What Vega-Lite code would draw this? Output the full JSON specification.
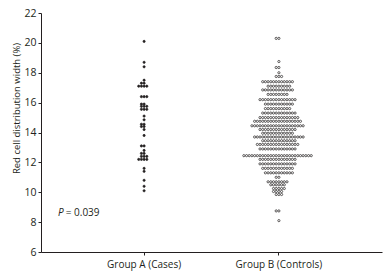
{
  "$schema": "https://vega.github.io/schema/vega-lite/v6.json",
  "autosize": "none",
  "width": 341,
  "height": 239,
  "padding": {"left": 41, "top": 13, "right": 6, "bottom": 20},
  "background": "white",
  "config": {
    "view": {"stroke": null},
    "axis": {"grid": false, "domainColor": "#231f20", "tickColor": "#231f20", "labelColor": "#231f20", "titleColor": "#231f20", "labelFont": "Open Sans", "titleFont": "Open Sans", "tickSize": 3, "domainWidth": 1, "tickWidth": 1, "labelBound": false, "labelOverlap": false}
  },
  "layer": [
    {
      "data": {"values": [
        {"g":"A","v":20.1},{"g":"A","v":18.7},{"g":"A","v":18.4},{"g":"A","v":17.5},
        {"g":"A","v":17.3},{"g":"A","v":17.3},
        {"g":"A","v":17.1},{"g":"A","v":17.1},{"g":"A","v":17.1},{"g":"A","v":17.1},
        {"g":"A","v":16.4},{"g":"A","v":16.4},{"g":"A","v":16.4},
        {"g":"A","v":15.9},{"g":"A","v":15.9},
        {"g":"A","v":15.75},{"g":"A","v":15.75},{"g":"A","v":15.75},
        {"g":"A","v":15.55},{"g":"A","v":15.55},{"g":"A","v":15.55},
        {"g":"A","v":15.1},{"g":"A","v":14.85},
        {"g":"A","v":14.55},{"g":"A","v":14.55},
        {"g":"A","v":14.4},{"g":"A","v":14.4},
        {"g":"A","v":14.2},{"g":"A","v":13.8},
        {"g":"A","v":13.1},{"g":"A","v":13.1},
        {"g":"A","v":12.8},
        {"g":"A","v":12.6},{"g":"A","v":12.6},
        {"g":"A","v":12.4},{"g":"A","v":12.4},{"g":"A","v":12.4},
        {"g":"A","v":12.2},{"g":"A","v":12.2},{"g":"A","v":12.2},{"g":"A","v":12.2},
        {"g":"A","v":11.6},{"g":"A","v":11.4},{"g":"A","v":10.8},{"g":"A","v":10.4},{"g":"A","v":10.1},

        {"g":"B","v":20.3},{"g":"B","v":20.3},
        {"g":"B","v":18.75},
        {"g":"B","v":18.35},{"g":"B","v":18.35},
        {"g":"B","v":18.0},
        {"g":"B","v":17.75},{"g":"B","v":17.75},{"g":"B","v":17.75},
        {"g":"B","v":17.4},{"g":"B","v":17.4},{"g":"B","v":17.4},{"g":"B","v":17.4},{"g":"B","v":17.4},{"g":"B","v":17.4},{"g":"B","v":17.4},{"g":"B","v":17.4},{"g":"B","v":17.4},{"g":"B","v":17.4},{"g":"B","v":17.4},{"g":"B","v":17.4},
        {"g":"B","v":17.1},{"g":"B","v":17.1},{"g":"B","v":17.1},{"g":"B","v":17.1},{"g":"B","v":17.1},{"g":"B","v":17.1},{"g":"B","v":17.1},{"g":"B","v":17.1},{"g":"B","v":17.1},
        {"g":"B","v":16.85},{"g":"B","v":16.85},{"g":"B","v":16.85},{"g":"B","v":16.85},{"g":"B","v":16.85},{"g":"B","v":16.85},{"g":"B","v":16.85},{"g":"B","v":16.85},{"g":"B","v":16.85},{"g":"B","v":16.85},{"g":"B","v":16.85},{"g":"B","v":16.85},
        {"g":"B","v":16.55},{"g":"B","v":16.55},{"g":"B","v":16.55},{"g":"B","v":16.55},{"g":"B","v":16.55},{"g":"B","v":16.55},{"g":"B","v":16.55},{"g":"B","v":16.55},
        {"g":"B","v":16.2},{"g":"B","v":16.2},{"g":"B","v":16.2},{"g":"B","v":16.2},{"g":"B","v":16.2},{"g":"B","v":16.2},{"g":"B","v":16.2},{"g":"B","v":16.2},{"g":"B","v":16.2},{"g":"B","v":16.2},{"g":"B","v":16.2},{"g":"B","v":16.2},{"g":"B","v":16.2},{"g":"B","v":16.2},
        {"g":"B","v":15.9},{"g":"B","v":15.9},{"g":"B","v":15.9},{"g":"B","v":15.9},{"g":"B","v":15.9},{"g":"B","v":15.9},{"g":"B","v":15.9},{"g":"B","v":15.9},{"g":"B","v":15.9},{"g":"B","v":15.9},{"g":"B","v":15.9},
        {"g":"B","v":15.6},{"g":"B","v":15.6},{"g":"B","v":15.6},{"g":"B","v":15.6},{"g":"B","v":15.6},{"g":"B","v":15.6},{"g":"B","v":15.6},{"g":"B","v":15.6},{"g":"B","v":15.6},{"g":"B","v":15.6},
        {"g":"B","v":15.3},{"g":"B","v":15.3},{"g":"B","v":15.3},{"g":"B","v":15.3},{"g":"B","v":15.3},{"g":"B","v":15.3},{"g":"B","v":15.3},{"g":"B","v":15.3},{"g":"B","v":15.3},{"g":"B","v":15.3},{"g":"B","v":15.3},{"g":"B","v":15.3},{"g":"B","v":15.3},
        {"g":"B","v":15.0},{"g":"B","v":15.0},{"g":"B","v":15.0},{"g":"B","v":15.0},{"g":"B","v":15.0},{"g":"B","v":15.0},{"g":"B","v":15.0},{"g":"B","v":15.0},{"g":"B","v":15.0},{"g":"B","v":15.0},{"g":"B","v":15.0},{"g":"B","v":15.0},{"g":"B","v":15.0},{"g":"B","v":15.0},{"g":"B","v":15.0},
        {"g":"B","v":14.75},{"g":"B","v":14.75},{"g":"B","v":14.75},{"g":"B","v":14.75},{"g":"B","v":14.75},{"g":"B","v":14.75},{"g":"B","v":14.75},{"g":"B","v":14.75},{"g":"B","v":14.75},{"g":"B","v":14.75},{"g":"B","v":14.75},{"g":"B","v":14.75},{"g":"B","v":14.75},{"g":"B","v":14.75},{"g":"B","v":14.75},{"g":"B","v":14.75},{"g":"B","v":14.75},{"g":"B","v":14.75},
        {"g":"B","v":14.45},{"g":"B","v":14.45},{"g":"B","v":14.45},{"g":"B","v":14.45},{"g":"B","v":14.45},{"g":"B","v":14.45},{"g":"B","v":14.45},{"g":"B","v":14.45},{"g":"B","v":14.45},{"g":"B","v":14.45},{"g":"B","v":14.45},{"g":"B","v":14.45},{"g":"B","v":14.45},{"g":"B","v":14.45},{"g":"B","v":14.45},{"g":"B","v":14.45},{"g":"B","v":14.45},{"g":"B","v":14.45},{"g":"B","v":14.45},{"g":"B","v":14.45},
        {"g":"B","v":14.2},{"g":"B","v":14.2},{"g":"B","v":14.2},{"g":"B","v":14.2},{"g":"B","v":14.2},{"g":"B","v":14.2},{"g":"B","v":14.2},{"g":"B","v":14.2},{"g":"B","v":14.2},{"g":"B","v":14.2},{"g":"B","v":14.2},{"g":"B","v":14.2},{"g":"B","v":14.2},{"g":"B","v":14.2},
        {"g":"B","v":13.95},{"g":"B","v":13.95},{"g":"B","v":13.95},{"g":"B","v":13.95},{"g":"B","v":13.95},{"g":"B","v":13.95},{"g":"B","v":13.95},{"g":"B","v":13.95},{"g":"B","v":13.95},{"g":"B","v":13.95},{"g":"B","v":13.95},{"g":"B","v":13.95},
        {"g":"B","v":13.7},{"g":"B","v":13.7},{"g":"B","v":13.7},{"g":"B","v":13.7},{"g":"B","v":13.7},{"g":"B","v":13.7},{"g":"B","v":13.7},{"g":"B","v":13.7},{"g":"B","v":13.7},{"g":"B","v":13.7},{"g":"B","v":13.7},{"g":"B","v":13.7},{"g":"B","v":13.7},{"g":"B","v":13.7},{"g":"B","v":13.7},{"g":"B","v":13.7},{"g":"B","v":13.7},{"g":"B","v":13.7},{"g":"B","v":13.7},
        {"g":"B","v":13.45},{"g":"B","v":13.45},{"g":"B","v":13.45},{"g":"B","v":13.45},{"g":"B","v":13.45},{"g":"B","v":13.45},{"g":"B","v":13.45},{"g":"B","v":13.45},{"g":"B","v":13.45},{"g":"B","v":13.45},{"g":"B","v":13.45},{"g":"B","v":13.45},{"g":"B","v":13.45},
        {"g":"B","v":13.2},{"g":"B","v":13.2},{"g":"B","v":13.2},{"g":"B","v":13.2},{"g":"B","v":13.2},{"g":"B","v":13.2},{"g":"B","v":13.2},{"g":"B","v":13.2},{"g":"B","v":13.2},{"g":"B","v":13.2},{"g":"B","v":13.2},{"g":"B","v":13.2},{"g":"B","v":13.2},{"g":"B","v":13.2},{"g":"B","v":13.2},{"g":"B","v":13.2},
        {"g":"B","v":12.9},{"g":"B","v":12.9},{"g":"B","v":12.9},{"g":"B","v":12.9},{"g":"B","v":12.9},{"g":"B","v":12.9},{"g":"B","v":12.9},{"g":"B","v":12.9},{"g":"B","v":12.9},{"g":"B","v":12.9},{"g":"B","v":12.9},{"g":"B","v":12.9},{"g":"B","v":12.9},{"g":"B","v":12.9},
        {"g":"B","v":12.45},{"g":"B","v":12.45},{"g":"B","v":12.45},{"g":"B","v":12.45},{"g":"B","v":12.45},{"g":"B","v":12.45},{"g":"B","v":12.45},{"g":"B","v":12.45},{"g":"B","v":12.45},{"g":"B","v":12.45},{"g":"B","v":12.45},{"g":"B","v":12.45},{"g":"B","v":12.45},{"g":"B","v":12.45},{"g":"B","v":12.45},{"g":"B","v":12.45},{"g":"B","v":12.45},{"g":"B","v":12.45},{"g":"B","v":12.45},{"g":"B","v":12.45},{"g":"B","v":12.45},{"g":"B","v":12.45},{"g":"B","v":12.45},{"g":"B","v":12.45},{"g":"B","v":12.45},{"g":"B","v":12.45},
        {"g":"B","v":12.2},{"g":"B","v":12.2},{"g":"B","v":12.2},{"g":"B","v":12.2},{"g":"B","v":12.2},{"g":"B","v":12.2},{"g":"B","v":12.2},{"g":"B","v":12.2},{"g":"B","v":12.2},{"g":"B","v":12.2},{"g":"B","v":12.2},{"g":"B","v":12.2},{"g":"B","v":12.2},{"g":"B","v":12.2},
        {"g":"B","v":11.9},{"g":"B","v":11.9},{"g":"B","v":11.9},{"g":"B","v":11.9},{"g":"B","v":11.9},{"g":"B","v":11.9},{"g":"B","v":11.9},{"g":"B","v":11.9},{"g":"B","v":11.9},{"g":"B","v":11.9},{"g":"B","v":11.9},{"g":"B","v":11.9},{"g":"B","v":11.9},{"g":"B","v":11.9},
        {"g":"B","v":11.6},{"g":"B","v":11.6},{"g":"B","v":11.6},{"g":"B","v":11.6},{"g":"B","v":11.6},{"g":"B","v":11.6},{"g":"B","v":11.6},{"g":"B","v":11.6},{"g":"B","v":11.6},{"g":"B","v":11.6},{"g":"B","v":11.6},{"g":"B","v":11.6},
        {"g":"B","v":11.3},{"g":"B","v":11.3},{"g":"B","v":11.3},{"g":"B","v":11.3},{"g":"B","v":11.3},{"g":"B","v":11.3},{"g":"B","v":11.3},{"g":"B","v":11.3},{"g":"B","v":11.3},{"g":"B","v":11.3},{"g":"B","v":11.3},
        {"g":"B","v":11.0},{"g":"B","v":11.0},
        {"g":"B","v":10.7},{"g":"B","v":10.7},{"g":"B","v":10.7},{"g":"B","v":10.7},{"g":"B","v":10.7},{"g":"B","v":10.7},{"g":"B","v":10.7},{"g":"B","v":10.7},
        {"g":"B","v":10.5},{"g":"B","v":10.5},{"g":"B","v":10.5},{"g":"B","v":10.5},{"g":"B","v":10.5},{"g":"B","v":10.5},
        {"g":"B","v":10.25},{"g":"B","v":10.25},{"g":"B","v":10.25},{"g":"B","v":10.25},{"g":"B","v":10.25},
        {"g":"B","v":10.05},{"g":"B","v":10.05},{"g":"B","v":10.05},{"g":"B","v":10.05},
        {"g":"B","v":9.85},{"g":"B","v":9.85},{"g":"B","v":9.85},
        {"g":"B","v":8.75},{"g":"B","v":8.75},
        {"g":"B","v":8.1}
      ]},
      "transform": [
        {"window": [{"op": "row_number", "as": "k"}], "groupby": ["g", "v"]}
      ],
      "mark": {"type": "circle", "size": 5, "stroke": "#231f20", "strokeWidth": 0.7, "opacity": 1},
      "encoding": {
        "x": {
          "field": "g", "type": "nominal",
          "scale": {"domain": ["A", "B"], "paddingInner": 0.46, "paddingOuter": 0.495},
          "axis": {"title": null, "labelAngle": 0, "labelPadding": 4, "labelFontSize": 10,
                   "labelExpr": "datum.value == 'A' ? 'Group A (Cases)' : 'Group B (Controls)'"}
        },
        "xOffset": {
          "field": "k", "type": "ordinal",
          "scale": {"domain": [26,24,22,20,18,16,14,12,10,8,6,4,2,1,3,5,7,9,11,13,15,17,19,21,23,25,27]}
        },
        "y": {
          "field": "v", "type": "quantitative",
          "scale": {"domain": [6, 22], "nice": false, "zero": false},
          "axis": {"values": [6,8,10,12,14,16,18,20,22], "labelOverlap": false, "labelSeparation": 0, "labelPadding": 2, "labelFontSize": 10.5,
                   "title": "Red cell distribution width (%)", "titleFontSize": 9.5, "titleFontWeight": "normal",
                   "titleX": -20, "titleY": 95}
        },
        "fill": {
          "field": "g", "type": "nominal",
          "scale": {"domain": ["A", "B"], "range": ["#231f20", "#ffffff"]},
          "legend": null
        }
      }
    },
    {
      "data": {"values": [{"t": "P"}]},
      "mark": {"type": "text", "font": "Open Sans", "fontSize": 10, "fontStyle": "italic", "align": "right", "baseline": "middle", "dx": -44, "color": "#231f20"},
      "encoding": {
        "x": {"datum": "A", "type": "nominal", "bandPosition": 0,
              "axis": {"title": null, "labelAngle": 0, "labelPadding": 4, "labelFontSize": 10,
                       "labelExpr": "datum.value == 'A' ? 'Group A (Cases)' : 'Group B (Controls)'"}},
        "y": {"datum": 8.6, "type": "quantitative",
              "axis": {"values": [6,8,10,12,14,16,18,20,22], "labelOverlap": false, "labelSeparation": 0, "labelPadding": 2, "labelFontSize": 10.5,
                       "title": "Red cell distribution width (%)", "titleFontSize": 9.5, "titleFontWeight": "normal",
                       "titleX": -20, "titleY": 95}},
        "text": {"field": "t"}
      }
    },
    {
      "data": {"values": [{"t": "= 0.039"}]},
      "mark": {"type": "text", "font": "Open Sans", "fontSize": 10, "align": "left", "baseline": "middle", "dx": -42, "color": "#231f20"},
      "encoding": {
        "x": {"datum": "A", "type": "nominal", "bandPosition": 0,
              "axis": {"title": null, "labelAngle": 0, "labelPadding": 4, "labelFontSize": 10,
                       "labelExpr": "datum.value == 'A' ? 'Group A (Cases)' : 'Group B (Controls)'"}},
        "y": {"datum": 8.6, "type": "quantitative",
              "axis": {"values": [6,8,10,12,14,16,18,20,22], "labelOverlap": false, "labelSeparation": 0, "labelPadding": 2, "labelFontSize": 10.5,
                       "title": "Red cell distribution width (%)", "titleFontSize": 9.5, "titleFontWeight": "normal",
                       "titleX": -20, "titleY": 95}},
        "text": {"field": "t"}
      }
    }
  ]
}
